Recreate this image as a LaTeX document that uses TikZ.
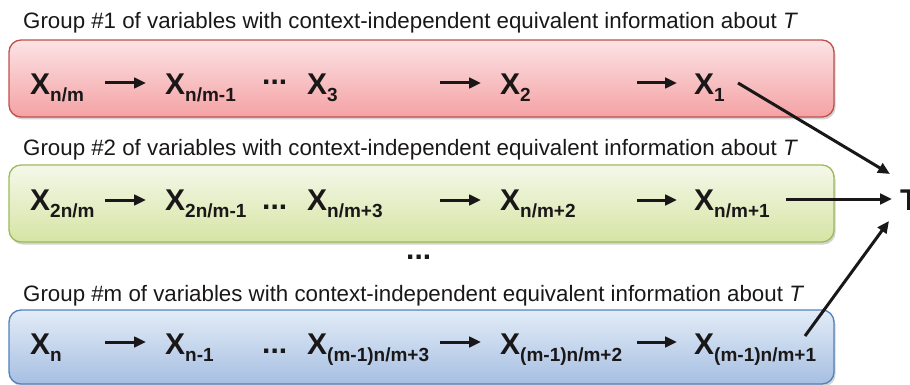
\documentclass[tikz,border=0pt]{standalone}
\usepackage{fontspec}
\setmainfont{Liberation Sans}
\usetikzlibrary{arrows.meta,shadows}

% a bold variable with a lowered index
\newcommand{\xvar}[1]{{\fontsize{30}{30}\selectfont X}\raisebox{-7pt}{\fontsize{19}{19}\selectfont #1}}

\definecolor{ink}{HTML}{1A1718}
\definecolor{redtop}{HTML}{FCE3E5}
\definecolor{redbot}{HTML}{F4A2A4}
\definecolor{redline}{HTML}{C0504D}
\definecolor{greentop}{HTML}{F5F8EA}
\definecolor{greenbot}{HTML}{D6E4A4}
\definecolor{greenline}{HTML}{9BBB59}
\definecolor{bluetop}{HTML}{E3ECF7}
\definecolor{bluebot}{HTML}{A6BFE2}
\definecolor{blueline}{HTML}{4F81BD}

\begin{document}
\begin{tikzpicture}[x=1pt,y=-1pt,
  groupbox/.style={rounded corners=12pt, line width=1.3pt,
    drop shadow={opacity=0.35, shadow xshift=1.5pt, shadow yshift=-2.5pt}},
  var/.style={anchor=base west, inner sep=0pt, text=ink,
    font=\fontsize{30}{30}\selectfont\bfseries},
  grouptitle/.style={anchor=base west, inner sep=0pt, text=ink,
    font=\fontsize{22.3}{24}\selectfont},
  link/.style={line width=3pt, draw=ink, -{Triangle[length=12pt,width=10.5pt]}}]

\useasboundingbox (0,0) rectangle (910,385);

% group boxes
\path[groupbox, draw=redline, top color=redtop, bottom color=redbot]
  (9,40) rectangle (834,117);
\path[groupbox, draw=greenline, top color=greentop, bottom color=greenbot]
  (9,165) rectangle (834,242);
\path[groupbox, draw=blueline, top color=bluetop, bottom color=bluebot]
  (9,310) rectangle (834,384);

% group titles
\node[grouptitle] (g1) at (23,29)  {Group \#1 of variables with context-independent equivalent information about \textit{T}};
\node[grouptitle] (g2) at (23,155) {Group \#2 of variables with context-independent equivalent information about \textit{T}};
\node[grouptitle] (gm) at (23,301) {Group \#m of variables with context-independent equivalent information about \textit{T}};

% group #1
\node[var] (a1) at (30,95)  {\xvar{n/m}};
\node[var] (a2) at (165,95) {\xvar{n/m-1}};
\node[var] (ad) at (262,85) {...};
\node[var] (a3) at (307,95) {\xvar{3}};
\node[var] (a4) at (500,95) {\xvar{2}};
\node[var] (a5) at (694,95) {\xvar{1}};

% group #2
\node[var] (b1) at (30,210)  {\xvar{2n/m}};
\node[var] (b2) at (165,210) {\xvar{2n/m-1}};
\node[var] (bd) at (262,209) {...};
\node[var] (b3) at (307,210) {\xvar{n/m+3}};
\node[var] (b4) at (500,210) {\xvar{n/m+2}};
\node[var] (b5) at (694,210) {\xvar{n/m+1}};

% omitted groups
\node[var] (vd) at (406,259) {...};

% group #m
\node[var] (c1) at (30,354)  {\xvar{n}};
\node[var] (c2) at (165,354) {\xvar{n-1}};
\node[var] (cd) at (262,353) {...};
\node[var] (c3) at (307,354) {\xvar{(m-1)n/m+3}};
\node[var] (c4) at (500,354) {\xvar{(m-1)n/m+2}};
\node[var] (c5) at (694,354) {\xvar{(m-1)n/m+1}};

% target
\node[var] (T) at (900,210) {T};

% arrow end points within the rows
\foreach \r/\y in {a/83, b/200, c/342} {
  \coordinate (\r s1) at (105,\y); \coordinate (\r e1) at (146,\y);
  \coordinate (\r s2) at (440,\y); \coordinate (\r e2) at (481,\y);
  \coordinate (\r s3) at (637,\y); \coordinate (\r e3) at (677,\y);
  \foreach \k in {1,2,3} \draw[link] (\r s\k) -- (\r e\k);
}

% links to the target
\coordinate (t1) at (890,174);
\coordinate (t2) at (892,199);
\coordinate (t3) at (889,221);
\coordinate (f1) at (738,83);
\coordinate (f2) at (786,199);
\coordinate (f3) at (805,336);
\draw[link] (f1) -- (t1);
\draw[link] (f2) -- (t2);
\draw[link] (f3) -- (t3);

\end{tikzpicture}
\end{document}
